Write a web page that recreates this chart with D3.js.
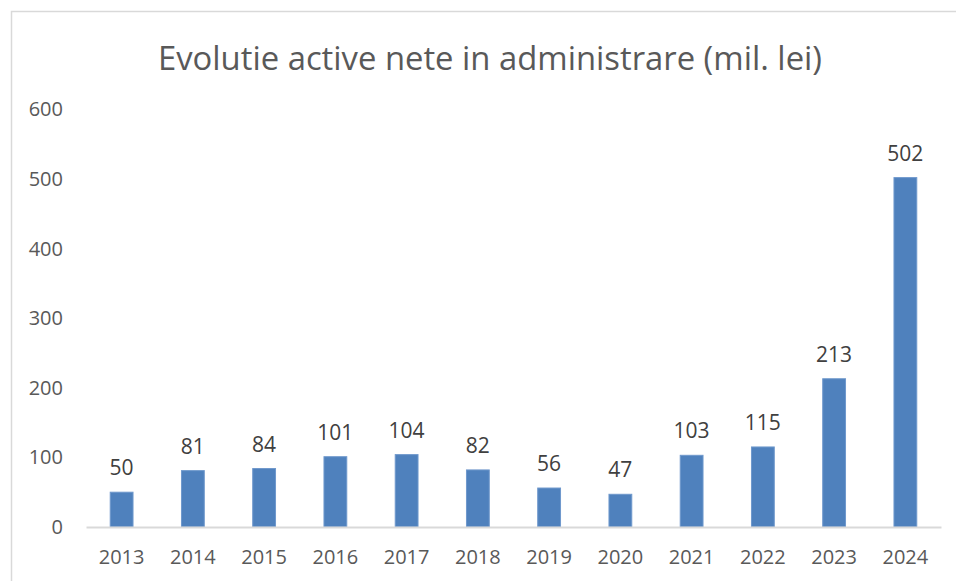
<!DOCTYPE html>
<html><head><meta charset="utf-8">
<script src="https://cdn.jsdelivr.net/npm/d3@7"></script>
<style>body{margin:0;background:#fff}svg{display:block}</style>
</head><body>
<svg id="c" width="956" height="581"></svg>
<script>
const years = ["2013","2014","2015","2016","2017","2018","2019","2020","2021","2022","2023","2024"];
const values = [50,81,84,101,104,82,56,47,103,115,213,502];
const yTicks = [0,100,200,300,400,500,600];
const title = "Evolutie active nete in administrare (mil. lei)";

const svg = d3.select("#c");
const font = "'Open Sans', 'Liberation Sans', sans-serif";
svg.append("rect").attr("x",11.5).attr("y",11.5).attr("width",1000).attr("height",1000)
  .attr("fill","#fff").attr("stroke","#d9d9d9").attr("stroke-width",1.5);

const x = d3.scaleBand().domain(years).range([86,941]).paddingInner(0.68).paddingOuter(0.34);
const y = d3.scaleLinear().domain([0,600]).range([527,109.4]);

svg.append("text").attr("x",490).attr("y",70).attr("text-anchor","middle")
  .attr("font-family",font).attr("font-size",32).attr("fill","#595959")
  .attr("textLength",664).attr("lengthAdjust","spacingAndGlyphs").text(title);

const yAxis = d3.axisLeft(y).tickValues(yTicks).tickSize(0).tickPadding(0);
const ga = svg.append("g").attr("transform","translate(63,0)").call(yAxis);
ga.select(".domain").remove();
ga.selectAll("text").attr("font-family",font).attr("font-size",20).attr("fill","#595959");

const xAxis = d3.axisBottom(x).tickSize(0).tickPadding(23);
const gx = svg.append("g").attr("transform","translate(0,527)").call(xAxis);
gx.select(".domain").attr("stroke","#d9d9d9").attr("stroke-width",2);
gx.selectAll("text").attr("font-family",font).attr("font-size",20).attr("fill","#595959");

svg.selectAll("rect.bar").data(values).join("rect").attr("class","bar")
  .attr("x",(d,i)=>x(years[i])).attr("width",x.bandwidth())
  .attr("y",d=>y(d)).attr("height",d=>y(0)-y(d))
  .attr("fill","#4f81bd").attr("stroke","#6f98cc").attr("stroke-width",1);

svg.selectAll("text.lbl").data(values).join("text").attr("class","lbl")
  .attr("x",(d,i)=>x(years[i])+x.bandwidth()/2).attr("y",d=>y(d)-17)
  .attr("text-anchor","middle").attr("font-family",font).attr("font-size",21).attr("fill","#404040")
  .text(d=>d);
gx.raise();
</script>
</body></html>
